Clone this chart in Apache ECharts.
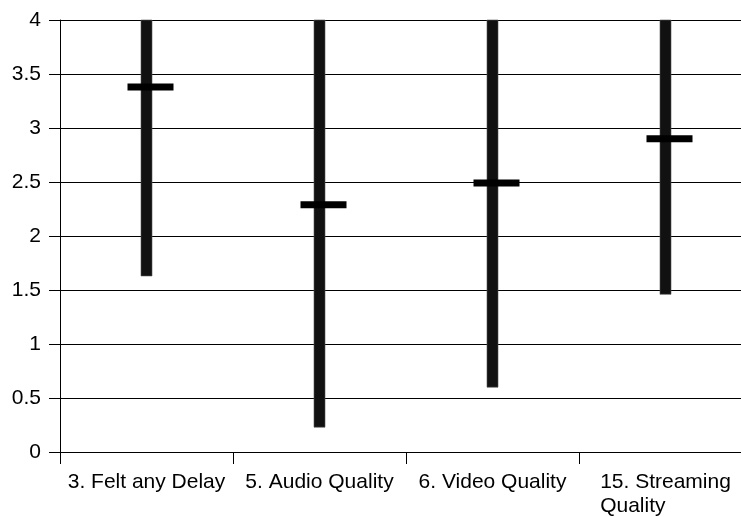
<!DOCTYPE html>
<html>
<head>
<meta charset="utf-8">
<script src="https://cdn.jsdelivr.net/npm/echarts@6/dist/echarts.min.js"></script>
<style>html,body{margin:0;padding:0;background:#fff}#c{width:741px;height:517px}</style>
</head>
<body>
<div id="c"></div>
<script>
var categories = ['3. Felt any Delay', '5. Audio Quality', '6. Video Quality', '15. Streaming Quality'];
var lowValues = [1.63, 0.23, 0.6, 1.46];
var highValues = [4, 4, 4, 4];
var meanValues = [3.38, 2.29, 2.49, 2.9];
var yTicks = [0, 0.5, 1, 1.5, 2, 2.5, 3, 3.5, 4];

var data = categories.map(function (c, i) { return [i, lowValues[i], highValues[i], meanValues[i]]; });

var chart = echarts.init(document.getElementById('c'), null, {renderer: 'canvas'});
chart.setOption({
  backgroundColor: '#fff',
  animation: false,
  grid: {left: 60, width: 692, top: 20, bottom: 65, containLabel: false, outerBoundsMode: 'none'},
  xAxis: {
    type: 'category',
    data: categories,
    boundaryGap: true,
    axisLine: {lineStyle: {color: '#000', width: 1}},
    axisTick: {show: true, length: 12, lineStyle: {color: '#000'}, alignWithLabel: false},
    axisLabel: {
      interval: 0,
      margin: 18,
      color: '#000',
      fontFamily: 'Liberation Sans, Arial, sans-serif',
      fontSize: 21,
      lineHeight: 24,
      formatter: function (v) {
        if (v === '15. Streaming Quality') return '{a|15. Streaming}\n{a|Quality}';
        return '{a|' + v + '}';
      },
      rich: {a: {align: 'left', fontSize: 21, lineHeight: 24, color: '#000', fontFamily: 'Liberation Sans, Arial, sans-serif'}}
    },
    splitLine: {show: false}
  },
  yAxis: {
    type: 'value',
    min: 0,
    max: 4,
    interval: 0.5,
    axisLine: {show: true, lineStyle: {color: '#000', width: 1}},
    axisTick: {show: true, length: 11, lineStyle: {color: '#000'}},
    axisLabel: {
      margin: 19,
      color: '#000',
      fontFamily: 'Liberation Sans, Arial, sans-serif',
      fontSize: 21,
      formatter: function (v) { return String(v); }
    },
    splitLine: {show: true, lineStyle: {color: '#000', width: 1}}
  },
  series: [{
    type: 'custom',
    data: data,
    encode: {x: 0, y: [1, 2, 3]},
    renderItem: function (params, api) {
      var idx = api.value(0);
      var lo = api.coord([idx, api.value(1)]);
      var hi = api.coord([idx, api.value(2)]);
      var mn = api.coord([idx, api.value(3)]);
      var bw = 11, mw = 46, mh = 7, off = 4;
      return {
        type: 'group',
        children: [
          {type: 'rect', shape: {x: lo[0] - bw / 2, y: hi[1], width: bw, height: lo[1] - hi[1]},
           style: {fill: '#111', stroke: '#555', lineWidth: 0.6}},
          {type: 'rect', shape: {x: mn[0] - mw / 2 + off, y: mn[1] - mh / 2, width: mw, height: mh},
           style: {fill: '#000'}}
        ]
      };
    }
  }]
});
</script>
</body>
</html>
